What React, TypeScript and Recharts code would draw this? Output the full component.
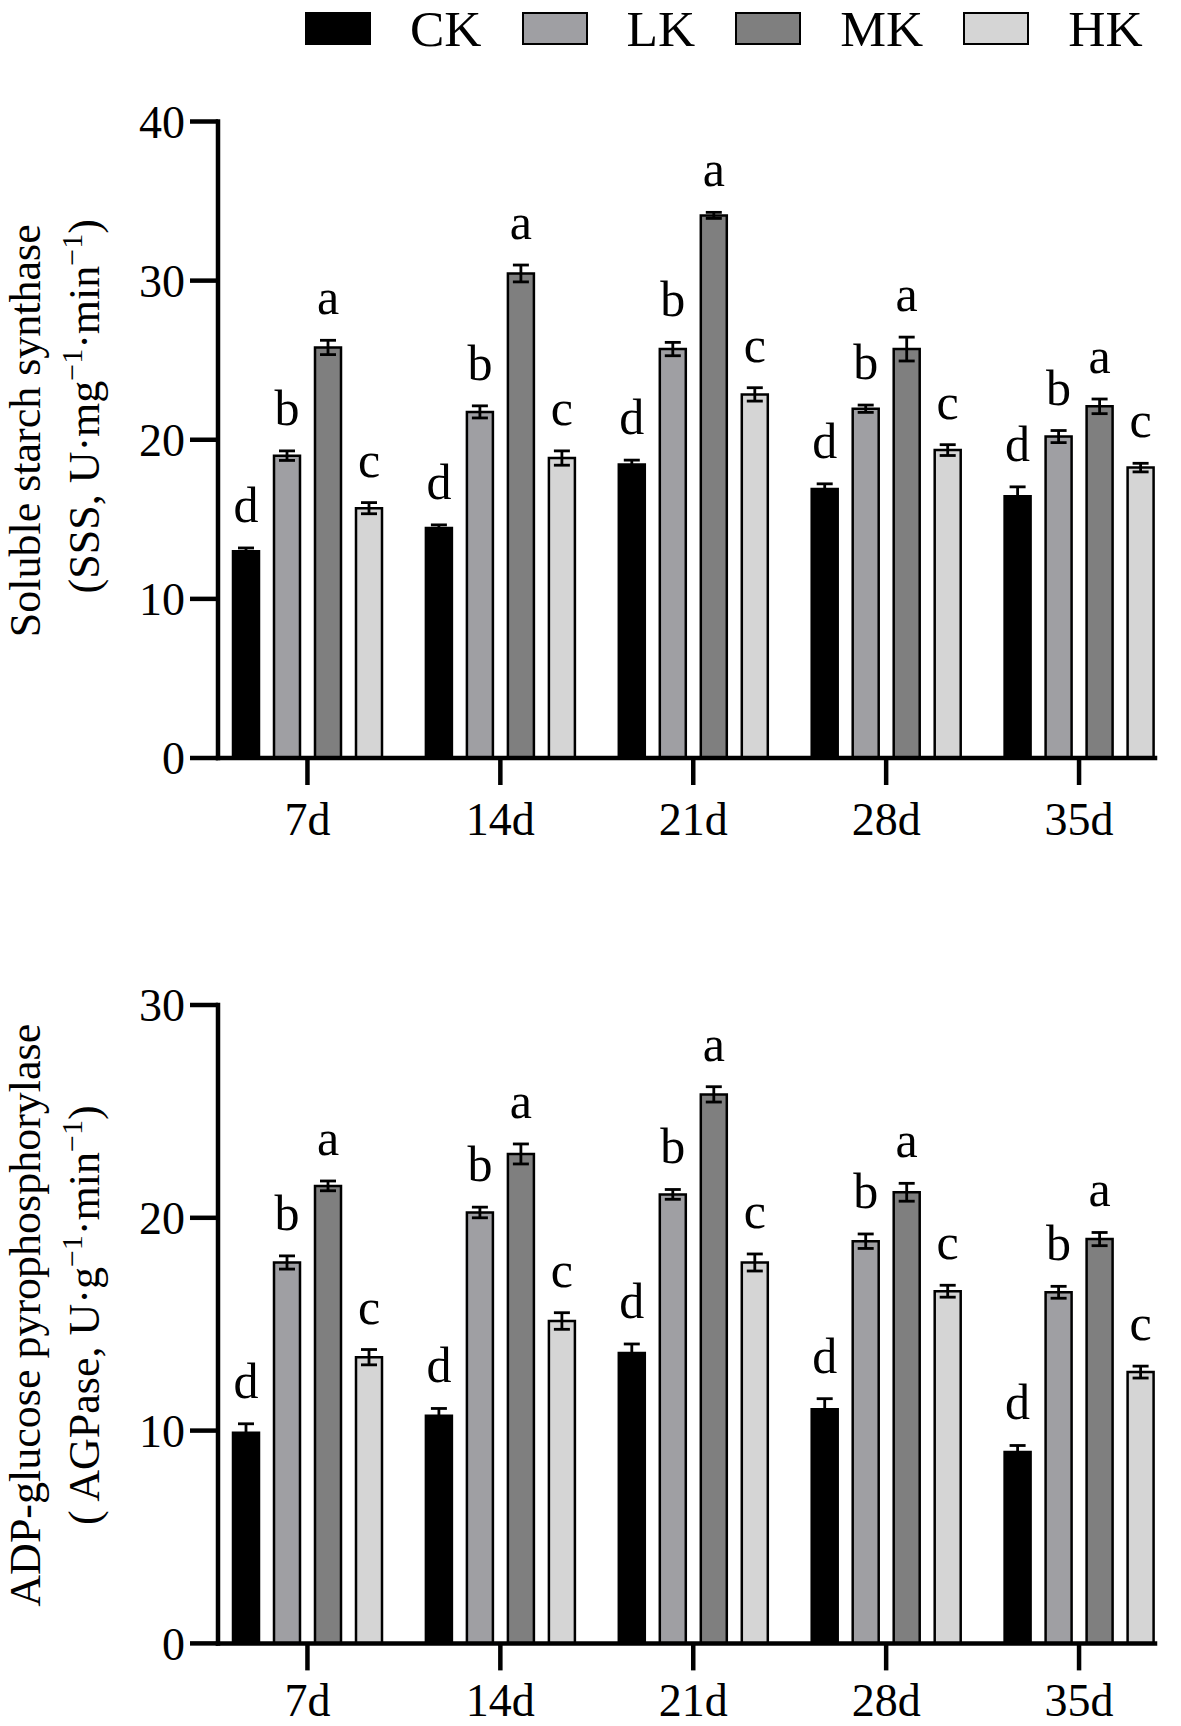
import React from 'react';
import { BarChart, Bar, XAxis, YAxis, ErrorBar, LabelList } from 'recharts';

const serif = '"Liberation Serif", "Times New Roman", Times, serif';

// sampling days and treatments
const days = ['7d', '14d', '21d', '28d', '35d'];
const groups = ['CK', 'LK', 'MK', 'HK'];
const fills = ['#000000', '#9f9fa3', '#7f7f7f', '#d5d5d5'];

// Soluble starch synthase (U·mg-1·min-1), mean and error
const sssCK = [13.0, 14.45, 18.45, 16.9, 16.45];
const sssLK = [19.0, 21.75, 25.7, 21.95, 20.2];
const sssMK = [25.8, 30.45, 34.1, 25.7, 22.1];
const sssHK = [15.7, 18.85, 22.85, 19.35, 18.25];
const sssCKErr = [0.2, 0.2, 0.27, 0.33, 0.59];
const sssLKErr = [0.3, 0.38, 0.42, 0.23, 0.38];
const sssMKErr = [0.45, 0.53, 0.19, 0.75, 0.46];
const sssHKErr = [0.35, 0.45, 0.42, 0.34, 0.27];
const sssTicks = [0, 10, 20, 30, 40];

// ADP-glucose pyrophosphorylase (U·g-1·min-1), mean and error
const agpCK = [9.9, 10.7, 13.65, 11.0, 9.0];
const agpLK = [17.9, 20.25, 21.1, 18.9, 16.5];
const agpMK = [21.5, 23.0, 25.8, 21.2, 19.0];
const agpHK = [13.45, 15.15, 17.9, 16.55, 12.75];
const agpCKErr = [0.42, 0.34, 0.42, 0.5, 0.3];
const agpLKErr = [0.31, 0.25, 0.23, 0.34, 0.28];
const agpMKErr = [0.23, 0.47, 0.36, 0.42, 0.31];
const agpHKErr = [0.36, 0.39, 0.4, 0.28, 0.28];
const agpTicks = [0, 10, 20, 30];

// significance letters
const lettersCK = ['d', 'd', 'd', 'd', 'd'];
const lettersLK = ['b', 'b', 'b', 'b', 'b'];
const lettersMK = ['a', 'a', 'a', 'a', 'a'];
const lettersHK = ['c', 'c', 'c', 'c', 'c'];

// axis titles, "^" marks a superscript piece
const sssTitle = [['Soluble starch synthase'], ['(SSS, U·mg', '^\u22121', '·min', '^\u22121', ')']];
const agpTitle = [['ADP-glucose pyrophosphorylase'], ['( AGPase, U·g', '^\u22121', '·min', '^\u22121', ')']];

const sssValues: Record<string, number[]> = { CK: sssCK, LK: sssLK, MK: sssMK, HK: sssHK };
const sssErrors: Record<string, number[]> = { CK: sssCKErr, LK: sssLKErr, MK: sssMKErr, HK: sssHKErr };
const agpValues: Record<string, number[]> = { CK: agpCK, LK: agpLK, MK: agpMK, HK: agpHK };
const agpErrors: Record<string, number[]> = { CK: agpCKErr, LK: agpLKErr, MK: agpMKErr, HK: agpHKErr };
const letters: Record<string, string[]> = { CK: lettersCK, LK: lettersLK, MK: lettersMK, HK: lettersHK };

function buildRows(values: Record<string, number[]>, errors: Record<string, number[]>) {
  return days.map((day, i) => {
    const row: any = { day };
    groups.forEach((g) => {
      row[g] = values[g][i];
      row[g + 'Err'] = errors[g][i];
    });
    return row;
  });
}

const sssRows = buildRows(sssValues, sssErrors);
const agpRows = buildRows(agpValues, agpErrors);

const letterLabel = (marks: string[], values: number[], errors: number[]) => (props: any) => {
  const vb = props.viewBox && props.viewBox.height != null ? props.viewBox : props;
  const { x, y, width, height } = vb;
  const i = typeof props.index === 'number' ? props.index : values.indexOf(Number(props.value));
  if (i < 0 || !values[i]) return null;
  const errPx = (height / values[i]) * errors[i];
  return (
    <text
      x={x + width / 2}
      y={y - errPx - 26}
      textAnchor="middle"
      fontSize={50}
      fontFamily={serif}
      fill="#000"
    >
      {marks[i]}
    </text>
  );
};

// pieces of one title line -> tspans, raising the superscripts
function titlePieces(pieces: string[]) {
  let raised = false;
  return pieces.map((p, k) => {
    const isSup = p.startsWith('^');
    const dy = isSup && !raised ? -17 : !isSup && raised ? 17 : 0;
    raised = isSup;
    return (
      <tspan key={k} dy={dy} fontSize={isSup ? 30 : 44}>
        {isSup ? p.slice(1) : p}
      </tspan>
    );
  });
}

const axisTitle = (lines: string[][], shifts: number[]) => (props: any) => {
  const vb = props.viewBox || { y: 0, height: 0 };
  const cy = vb.y + vb.height / 2;
  const xs = [40, 99];
  return (
    <g>
      {lines.map((line, i) => (
        <text
          key={i}
          transform={`translate(${xs[i]},${cy + shifts[i]}) rotate(-90)`}
          textAnchor="middle"
          fontSize={44}
          fontFamily={serif}
          fill="#000"
        >
          {titlePieces(line)}
        </text>
      ))}
    </g>
  );
};

const axisLine = { stroke: '#000', strokeWidth: 4.5, strokeLinecap: 'square' as const };
const tickLine = { stroke: '#000', strokeWidth: 4.5 };
const tickStyle = { fontSize: 46, fill: '#000', fontFamily: serif };

function EnzymeChart(props: {
  rows: any[];
  values: Record<string, number[]>;
  errors: Record<string, number[]>;
  ticks: number[];
  title: string[][];
  titleShifts: number[];
  height: number;
  marginTop: number;
  marginBottom: number;
  xAxisHeight: number;
  xTickMargin: number;
}) {
  const { rows, values, errors, ticks, title, titleShifts } = props;
  return (
    <BarChart
      width={1181}
      height={props.height}
      data={rows}
      margin={{ top: props.marginTop, right: 26, bottom: props.marginBottom, left: 0 }}
      barSize={26}
      barGap={15}
    >
      <XAxis
        dataKey="day"
        height={props.xAxisHeight}
        padding={{ left: -7, right: -20.5 }}
        axisLine={axisLine}
        tickLine={tickLine}
        tickSize={27}
        tickMargin={props.xTickMargin}
        tick={tickStyle}
        interval={0}
      />
      <YAxis
        width={218}
        domain={[ticks[0], ticks[ticks.length - 1]]}
        ticks={ticks}
        interval={0}
        axisLine={axisLine}
        tickLine={tickLine}
        tickSize={28}
        tickMargin={5}
        tick={tickStyle}
        label={axisTitle(title, titleShifts)}
      />
      {groups.map((g, gi) => (
        <Bar
          key={g}
          dataKey={g}
          fill={fills[gi]}
          stroke="#000"
          strokeWidth={2.5}
          isAnimationActive={false}
        >
          <ErrorBar dataKey={g + 'Err'} width={8} stroke="#000" strokeWidth={2.8} direction="y" />
          <LabelList dataKey={g} content={letterLabel(letters[g], values[g], errors[g])} />
        </Bar>
      ))}
    </BarChart>
  );
}

function TopLegend() {
  return (
    <div
      style={{
        position: 'absolute',
        left: 305,
        top: 5,
        display: 'flex',
        alignItems: 'center',
        fontFamily: serif,
        fontSize: 51.5,
        lineHeight: '47px',
        color: '#000',
        zIndex: 2
      }}
    >
      {groups.map((g, gi) => (
        <div key={g} style={{ display: 'flex', alignItems: 'center', marginRight: 40 }}>
          <div
            style={{
              width: 66,
              height: 33,
              boxSizing: 'border-box',
              background: fills[gi],
              border: '2.5px solid #000',
              marginRight: 39
            }}
          />
          <span>{g}</span>
        </div>
      ))}
    </div>
  );
}

export default function App() {
  return (
    <div
      style={{
        position: 'absolute',
        left: 0,
        top: 0,
        width: 1181,
        height: 1726,
        background: '#fff',
        overflow: 'hidden'
      }}
    >
      <TopLegend />
      <div style={{ position: 'absolute', left: 0, top: 0 }}>
        <EnzymeChart
          rows={sssRows}
          values={sssValues}
          errors={sssErrors}
          ticks={sssTicks}
          title={sssTitle}
          titleShifts={[-9, -33.5]}
          height={860}
          marginTop={121.5}
          marginBottom={12}
          xAxisHeight={90}
          xTickMargin={17}
        />
      </div>
      <div style={{ position: 'absolute', left: 0, top: 860 }}>
        <EnzymeChart
          rows={agpRows}
          values={agpValues}
          errors={agpErrors}
          ticks={agpTicks}
          title={agpTitle}
          titleShifts={[-9, -9]}
          height={866}
          marginTop={145}
          marginBottom={2.6}
          xAxisHeight={80}
          xTickMargin={13}
        />
      </div>
    </div>
  );
}
